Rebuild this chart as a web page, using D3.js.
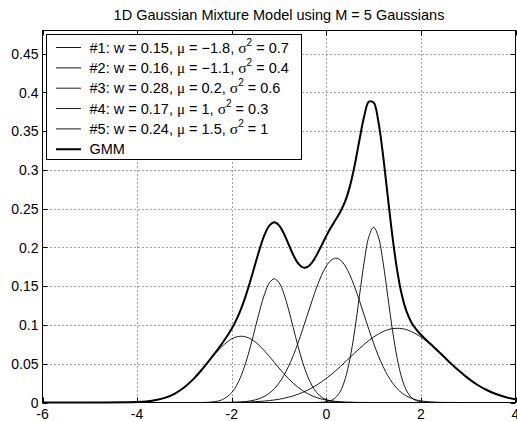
<!DOCTYPE html>
<html>
<head>
<meta charset="utf-8">
<script src="https://cdn.jsdelivr.net/npm/d3@7"></script>
<style>
  body { margin: 0; background: #fff; }
  svg { display: block; font-family: "Liberation Sans", Arial, Helvetica, sans-serif; }
</style>
</head>
<body>
<svg id="chart" width="517" height="421"></svg>
<script>
// sample positions along x (finer around the narrow components)
var xs = [-6, -5, -4, -3.8, -3.6, -3.4, -3.2, -3.0, -2.8, -2.6, -2.4, -2.2,
  -2.0, -1.9, -1.8, -1.7, -1.6, -1.5, -1.4, -1.3, -1.2, -1.1, -1.0, -0.9, -0.8, -0.7, -0.6,
  -0.5, -0.4, -0.3, -0.2, -0.1, 0.0, 0.1, 0.2, 0.3, 0.4, 0.5, 0.6, 0.7, 0.8, 0.9, 1.0,
  1.1, 1.2, 1.3, 1.4, 1.5, 1.6, 1.7, 1.8, 1.9, 2.0,
  2.2, 2.4, 2.6, 2.8, 3.0, 3.2, 3.4, 3.6, 3.8, 4.0];

var comp1 = [0, 0, 0.0006, 0.0014, 0.0031, 0.0063, 0.0116, 0.0197, 0.0308, 0.0445, 0.0592, 0.0726,
  0.0821, 0.0846, 0.0855, 0.0846, 0.0821, 0.0780, 0.0726, 0.0662, 0.0592, 0.0519, 0.0445, 0.0374, 0.0308, 0.0249, 0.0197,
  0.0152, 0.0116, 0.0086, 0.0063, 0.0045, 0.0031, 0.0022, 0.0014, 0.0010, 0.0006, 0.0004, 0.0002, 0.0001, 0.0001, 0, 0,
  0, 0, 0, 0, 0, 0, 0, 0, 0, 0,
  0, 0, 0, 0, 0, 0, 0, 0, 0, 0];

var comp2 = [0, 0, 0, 0, 0, 0, 0, 0, 0, 0.0001, 0.0008, 0.0036,
  0.0127, 0.0216, 0.0345, 0.0518, 0.0731, 0.0968, 0.1205, 0.1408, 0.1547, 0.1596, 0.1547, 0.1408, 0.1205, 0.0968, 0.0731,
  0.0518, 0.0345, 0.0216, 0.0127, 0.0070, 0.0036, 0.0018, 0.0008, 0.0004, 0.0001, 0.0001, 0, 0, 0, 0, 0,
  0, 0, 0, 0, 0, 0, 0, 0, 0, 0,
  0, 0, 0, 0, 0, 0, 0, 0, 0, 0];

var comp3 = [0, 0, 0, 0, 0, 0, 0, 0, 0, 0, 0, 0.0001,
  0.0002, 0.0004, 0.0007, 0.0012, 0.0021, 0.0034, 0.0053, 0.0082, 0.0122, 0.0178, 0.0252, 0.0347, 0.0464, 0.0604, 0.0765,
  0.0943, 0.1129, 0.1316, 0.1491, 0.1643, 0.1761, 0.1836, 0.1862, 0.1836, 0.1761, 0.1643, 0.1491, 0.1316, 0.1129, 0.0943, 0.0765,
  0.0604, 0.0464, 0.0347, 0.0252, 0.0178, 0.0122, 0.0082, 0.0053, 0.0034, 0.0021,
  0.0007, 0.0002, 0.0001, 0, 0, 0, 0, 0, 0, 0];

var comp4 = [0, 0, 0, 0, 0, 0, 0, 0, 0, 0, 0, 0,
  0, 0, 0, 0, 0, 0, 0, 0, 0, 0, 0, 0, 0, 0, 0,
  0, 0, 0, 0.0001, 0.0003, 0.0009, 0.0025, 0.0065, 0.0149, 0.0306, 0.0564, 0.0929, 0.1371, 0.1810, 0.2139, 0.2261,
  0.2139, 0.1810, 0.1371, 0.0929, 0.0564, 0.0306, 0.0149, 0.0065, 0.0025, 0.0009,
  0.0001, 0, 0, 0, 0, 0, 0, 0, 0, 0];

var comp5 = [0, 0, 0, 0, 0, 0, 0, 0, 0, 0, 0, 0.0001,
  0.0002, 0.0003, 0.0004, 0.0006, 0.0008, 0.0011, 0.0014, 0.0019, 0.0025, 0.0033, 0.0042, 0.0054, 0.0068, 0.0085, 0.0106,
  0.0130, 0.0158, 0.0190, 0.0226, 0.0266, 0.0311, 0.0359, 0.0411, 0.0466, 0.0523, 0.0581, 0.0639, 0.0695, 0.0749, 0.0800, 0.0845,
  0.0884, 0.0915, 0.0939, 0.0953, 0.0957, 0.0953, 0.0939, 0.0915, 0.0884, 0.0845,
  0.0749, 0.0639, 0.0523, 0.0411, 0.0311, 0.0226, 0.0158, 0.0106, 0.0068, 0.0042];

var gmm = [0, 0, 0.0006, 0.0014, 0.0031, 0.0063, 0.0116, 0.0197, 0.0308, 0.0447, 0.0601, 0.0764,
  0.0952, 0.1069, 0.1211, 0.1382, 0.1580, 0.1792, 0.1998, 0.2172, 0.2286, 0.2325, 0.2286, 0.2183, 0.2045, 0.1906, 0.1798,
  0.1743, 0.1748, 0.1807, 0.1907, 0.2027, 0.2148, 0.2260, 0.2360, 0.2464, 0.2597, 0.2792, 0.3061, 0.3384, 0.3690, 0.3881, 0.3871,
  0.3627, 0.3190, 0.2656, 0.2134, 0.1699, 0.1381, 0.1169, 0.1033, 0.0943, 0.0874,
  0.0757, 0.0641, 0.0523, 0.0412, 0.0311, 0.0226, 0.0158, 0.0106, 0.0068, 0.0042];

// legend text pieces
var weights = ["0.15", "0.16", "0.28", "0.17", "0.24"];
var means = ["\u22121.8", "\u22121.1", "0.2", "1", "1.5"];
var variances = ["0.7", "0.4", "0.6", "0.3", "1"];

var xTicks = [-6, -4, -2, 0, 2, 4];
var yTicks = [0, 0.05, 0.1, 0.15, 0.2, 0.25, 0.3, 0.35, 0.4, 0.45];
var titleText = "1D Gaussian Mixture Model using M = 5 Gaussians";

var svg = d3.select("#chart");
var pLeft = 42.5, pRight = 515.5, pTop = 30.5, pBottom = 402.5;

var x = d3.scaleLinear().domain([-6, 4]).range([pLeft, pRight]);
var y = d3.scaleLinear().domain([0, 0.48]).range([pBottom, pTop]);

function tickLabel(d){
    return String(d);
}

// grid
var grid = svg.append("g").attr("stroke", "#444").attr("stroke-width", 1)
    .attr("stroke-dasharray", "1,3");
grid.selectAll("line.gx")
    .data(xTicks.filter(function(d){ return d > -6 && d < 4; }))
    .enter().append("line")
    .attr("x1", function(d){ return Math.round(x(d)) + 0.5; })
    .attr("x2", function(d){ return Math.round(x(d)) + 0.5; })
    .attr("y1", pTop).attr("y2", pBottom);
grid.selectAll("line.gy")
    .data(yTicks.filter(function(d){ return d > 0; }))
    .enter().append("line")
    .attr("y1", function(d){ return Math.round(y(d)) + 0.5; })
    .attr("y2", function(d){ return Math.round(y(d)) + 0.5; })
    .attr("x1", pLeft).attr("x2", pRight);

// curves
var line = d3.line()
    .x(function(d){ return x(d[0]); })
    .y(function(d){ return y(d[1]); })
    .curve(d3.curveCatmullRom.alpha(0.5));

var comps = [comp1, comp2, comp3, comp4, comp5];
comps.forEach(function(c){
    svg.append("path")
        .attr("d", line(d3.zip(xs, c)))
        .attr("fill", "none")
        .attr("stroke", "#000")
        .attr("stroke-width", 0.9);
});
svg.append("path")
    .attr("d", line(d3.zip(xs, gmm)))
    .attr("fill", "none")
    .attr("stroke", "#000")
    .attr("stroke-width", 2);

// axes box and ticks
svg.append("rect")
    .attr("x", pLeft).attr("y", pTop)
    .attr("width", pRight - pLeft).attr("height", pBottom - pTop)
    .attr("fill", "none").attr("stroke", "#000").attr("stroke-width", 1);

var tl = 5;
var ticks = svg.append("g").attr("stroke", "#000").attr("stroke-width", 1);
xTicks.forEach(function(d){
    var px = Math.round(x(d)) + 0.5;
    ticks.append("line").attr("x1", px).attr("x2", px).attr("y1", pBottom).attr("y2", pBottom - tl);
    ticks.append("line").attr("x1", px).attr("x2", px).attr("y1", pTop).attr("y2", pTop + tl);
});
yTicks.forEach(function(d){
    var py = Math.round(y(d)) + 0.5;
    ticks.append("line").attr("y1", py).attr("y2", py).attr("x1", pLeft).attr("x2", pLeft + tl);
    ticks.append("line").attr("y1", py).attr("y2", py).attr("x1", pRight).attr("x2", pRight - tl);
});

svg.selectAll("text.xt")
    .data(xTicks)
    .enter().append("text")
    .attr("class", "xt")
    .attr("x", function(d){ return x(d); })
    .attr("y", 419)
    .attr("text-anchor", "middle")
    .attr("font-size", 14)
    .text(tickLabel);

svg.selectAll("text.yt")
    .data(yTicks)
    .enter().append("text")
    .attr("class", "yt")
    .attr("x", 38.5)
    .attr("y", function(d){ return y(d) + 5; })
    .attr("text-anchor", "end")
    .attr("font-size", 14)
    .text(tickLabel);

// title
svg.append("text")
    .attr("x", (pLeft + pRight) / 2)
    .attr("y", 19.5)
    .attr("text-anchor", "middle")
    .attr("font-size", 14.5)
    .text(titleText);

// legend
var lg = svg.append("g");
lg.append("rect")
    .attr("x", 46.5).attr("y", 34.5)
    .attr("width", 255).attr("height", 125)
    .attr("fill", "#fff").attr("stroke", "#000").attr("stroke-width", 1);

var rowY = function(i){ return 47.5 + i * 20.35; };
var serif = "\"Liberation Serif\", \"Times New Roman\", serif";

for (var i = 0; i < 6; i++) {
    lg.append("line")
        .attr("x1", 56).attr("x2", 81)
        .attr("y1", rowY(i)).attr("y2", rowY(i))
        .attr("stroke", "#000")
        .attr("stroke-width", i == 5 ? 2 : 0.9);
    var t = lg.append("text")
        .attr("x", 89.5)
        .attr("y", rowY(i) + 5)
        .attr("font-size", 14.5);
    if (i == 5) {
        t.text("GMM");
        continue;
    }
    t.append("tspan").text("#" + (i + 1) + ": w = " + weights[i] + ", ");
    t.append("tspan").attr("font-family", serif).attr("font-size", 15).text("\u03bc");
    t.append("tspan").text(" = " + means[i] + ", ");
    t.append("tspan").attr("font-family", serif).attr("font-size", 15.5).text("\u03c3");
    t.append("tspan").attr("font-size", 10).attr("dy", -7).text("2");
    t.append("tspan").attr("dy", 7).text(" = " + variances[i]);
}
</script>
</body>
</html>
